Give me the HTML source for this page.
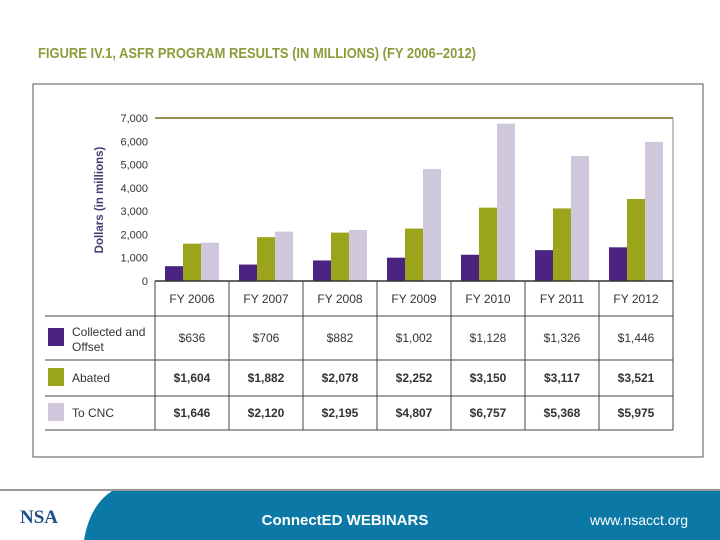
<!DOCTYPE html>
<html><head><meta charset="utf-8"><style>
body{margin:0;width:720px;height:540px;overflow:hidden;background:#fff;font-family:"Liberation Sans",sans-serif;}
svg{display:block}
</style></head><body>
<svg id="c" width="720" height="540" xmlns="http://www.w3.org/2000/svg">
<text x="38" y="58" font-size="15" font-weight="bold" fill="#8f9a3a" textLength="438" lengthAdjust="spacingAndGlyphs">FIGURE IV.1, ASFR PROGRAM RESULTS (IN MILLIONS) (FY 2006–2012)</text>
<rect x="33" y="84" width="670" height="373" fill="none" stroke="#555" stroke-width="1"/>
<text transform="translate(103,200) rotate(-90)" text-anchor="middle" font-size="11.5" font-weight="bold" fill="#4b3a78">Dollars (in millions)</text>
<g id="plot"></g>
<g id="footer">
<line x1="0" y1="490" x2="720" y2="490" stroke="#333" stroke-width="1"/>
<rect x="0" y="491" width="720" height="49" fill="#0b78a6"/>
<path d="M0 491 H112 Q90 505 84 540 H0 Z" fill="#fff"/>
<text x="20" y="523" font-size="19" font-weight="bold" fill="#1d4f8c" font-family="Liberation Serif,serif">NSA</text>
<text x="345" y="525" text-anchor="middle" font-size="15" font-weight="bold" fill="#fff">ConnectED WEBINARS</text>
<text x="688" y="525" text-anchor="end" font-size="14" fill="#fff">www.nsacct.org</text>
</g>
</svg>
<script>
const categories=["FY 2006","FY 2007","FY 2008","FY 2009","FY 2010","FY 2011","FY 2012"];
const collected=[636,706,882,1002,1128,1326,1446];
const abated=[1604,1882,2078,2252,3150,3117,3521];
const toCnc=[1646,2120,2195,4807,6757,5368,5975];
const yTicks=[0,1000,2000,3000,4000,5000,6000,7000];
const seriesNames=["Collected and Offset","Abated","To CNC"];
{
const NS="http://www.w3.org/2000/svg";
const g=document.getElementById('plot');
const left=155,colW=74,plotTop=118,base=281,yMax=7000;
const y=v=>base-(v/yMax)*(base-plotTop);
const xc=i=>left+colW*i+colW/2;
function mk(t,a,txt){const e=document.createElementNS(NS,t);for(const k in a)e.setAttribute(k,a[k]);if(txt!==undefined)e.textContent=txt;g.appendChild(e);return e;}
const colors=["#4b2380","#9aa51c","#cfc8dc"];
const series=[collected,abated,toCnc];
let e=mk('line',{x1:left,y1:plotTop,x2:left+colW*7,y2:plotTop,stroke:'#7a6a20','stroke-width':1.5});


e=mk('line',{x1:left+colW*7,y1:plotTop,x2:left+colW*7,y2:base,stroke:'#888','stroke-width':1});


yTicks.forEach(t=>{const el=mk('text',{x:left-7,y:y(t)+4,'text-anchor':'end','font-size':11,fill:'#333'},t.toLocaleString('en-US'));

});
const bw=18;
series.forEach((s,si)=>{s.forEach((v,i)=>{const r=mk('rect',{x:xc(i)-bw*1.5+si*bw,y:y(v),width:bw,height:base-y(v),fill:colors[si]});

});});
e=mk('line',{x1:left,y1:base,x2:left+colW*7,y2:base,stroke:'#333','stroke-width':1.5});


for(let i=0;i<=7;i++){e=mk('line',{x1:left+colW*i,y1:base,x2:left+colW*i,y2:430,stroke:'#444','stroke-width':1});

}
[316,360,396,430].forEach(r=>{e=mk('line',{x1:45,y1:r,x2:left+colW*7,y2:r,stroke:'#444','stroke-width':1});

});
categories.forEach((c,i)=>{e=mk('text',{x:xc(i),y:303,'text-anchor':'middle','font-size':12,fill:'#333'},c);

});
const rowMid=[338,378,413];
series.forEach((s,si)=>{
 e=mk('rect',{x:48,y:rowMid[si]-10,width:16,height:18,fill:colors[si]});
 
 
 if(si===0){e=mk('text',{x:72,y:rowMid[si]-2,'font-size':12,fill:'#333'},'Collected and');
  
  
  e=mk('text',{x:72,y:rowMid[si]+13,'font-size':12,fill:'#333'},'Offset');
  
  }
 else{e=mk('text',{x:72,y:rowMid[si]+4,'font-size':12,fill:'#333'},seriesNames[si]);
  
  }
 s.forEach((v,i)=>{e=mk('text',{x:xc(i),y:rowMid[si]+4,'text-anchor':'middle','font-size':12,'font-weight':si?'bold':'normal',fill:'#333'},'$'+v.toLocaleString('en-US'));
 
 });
});
}
</script>
</body></html>
